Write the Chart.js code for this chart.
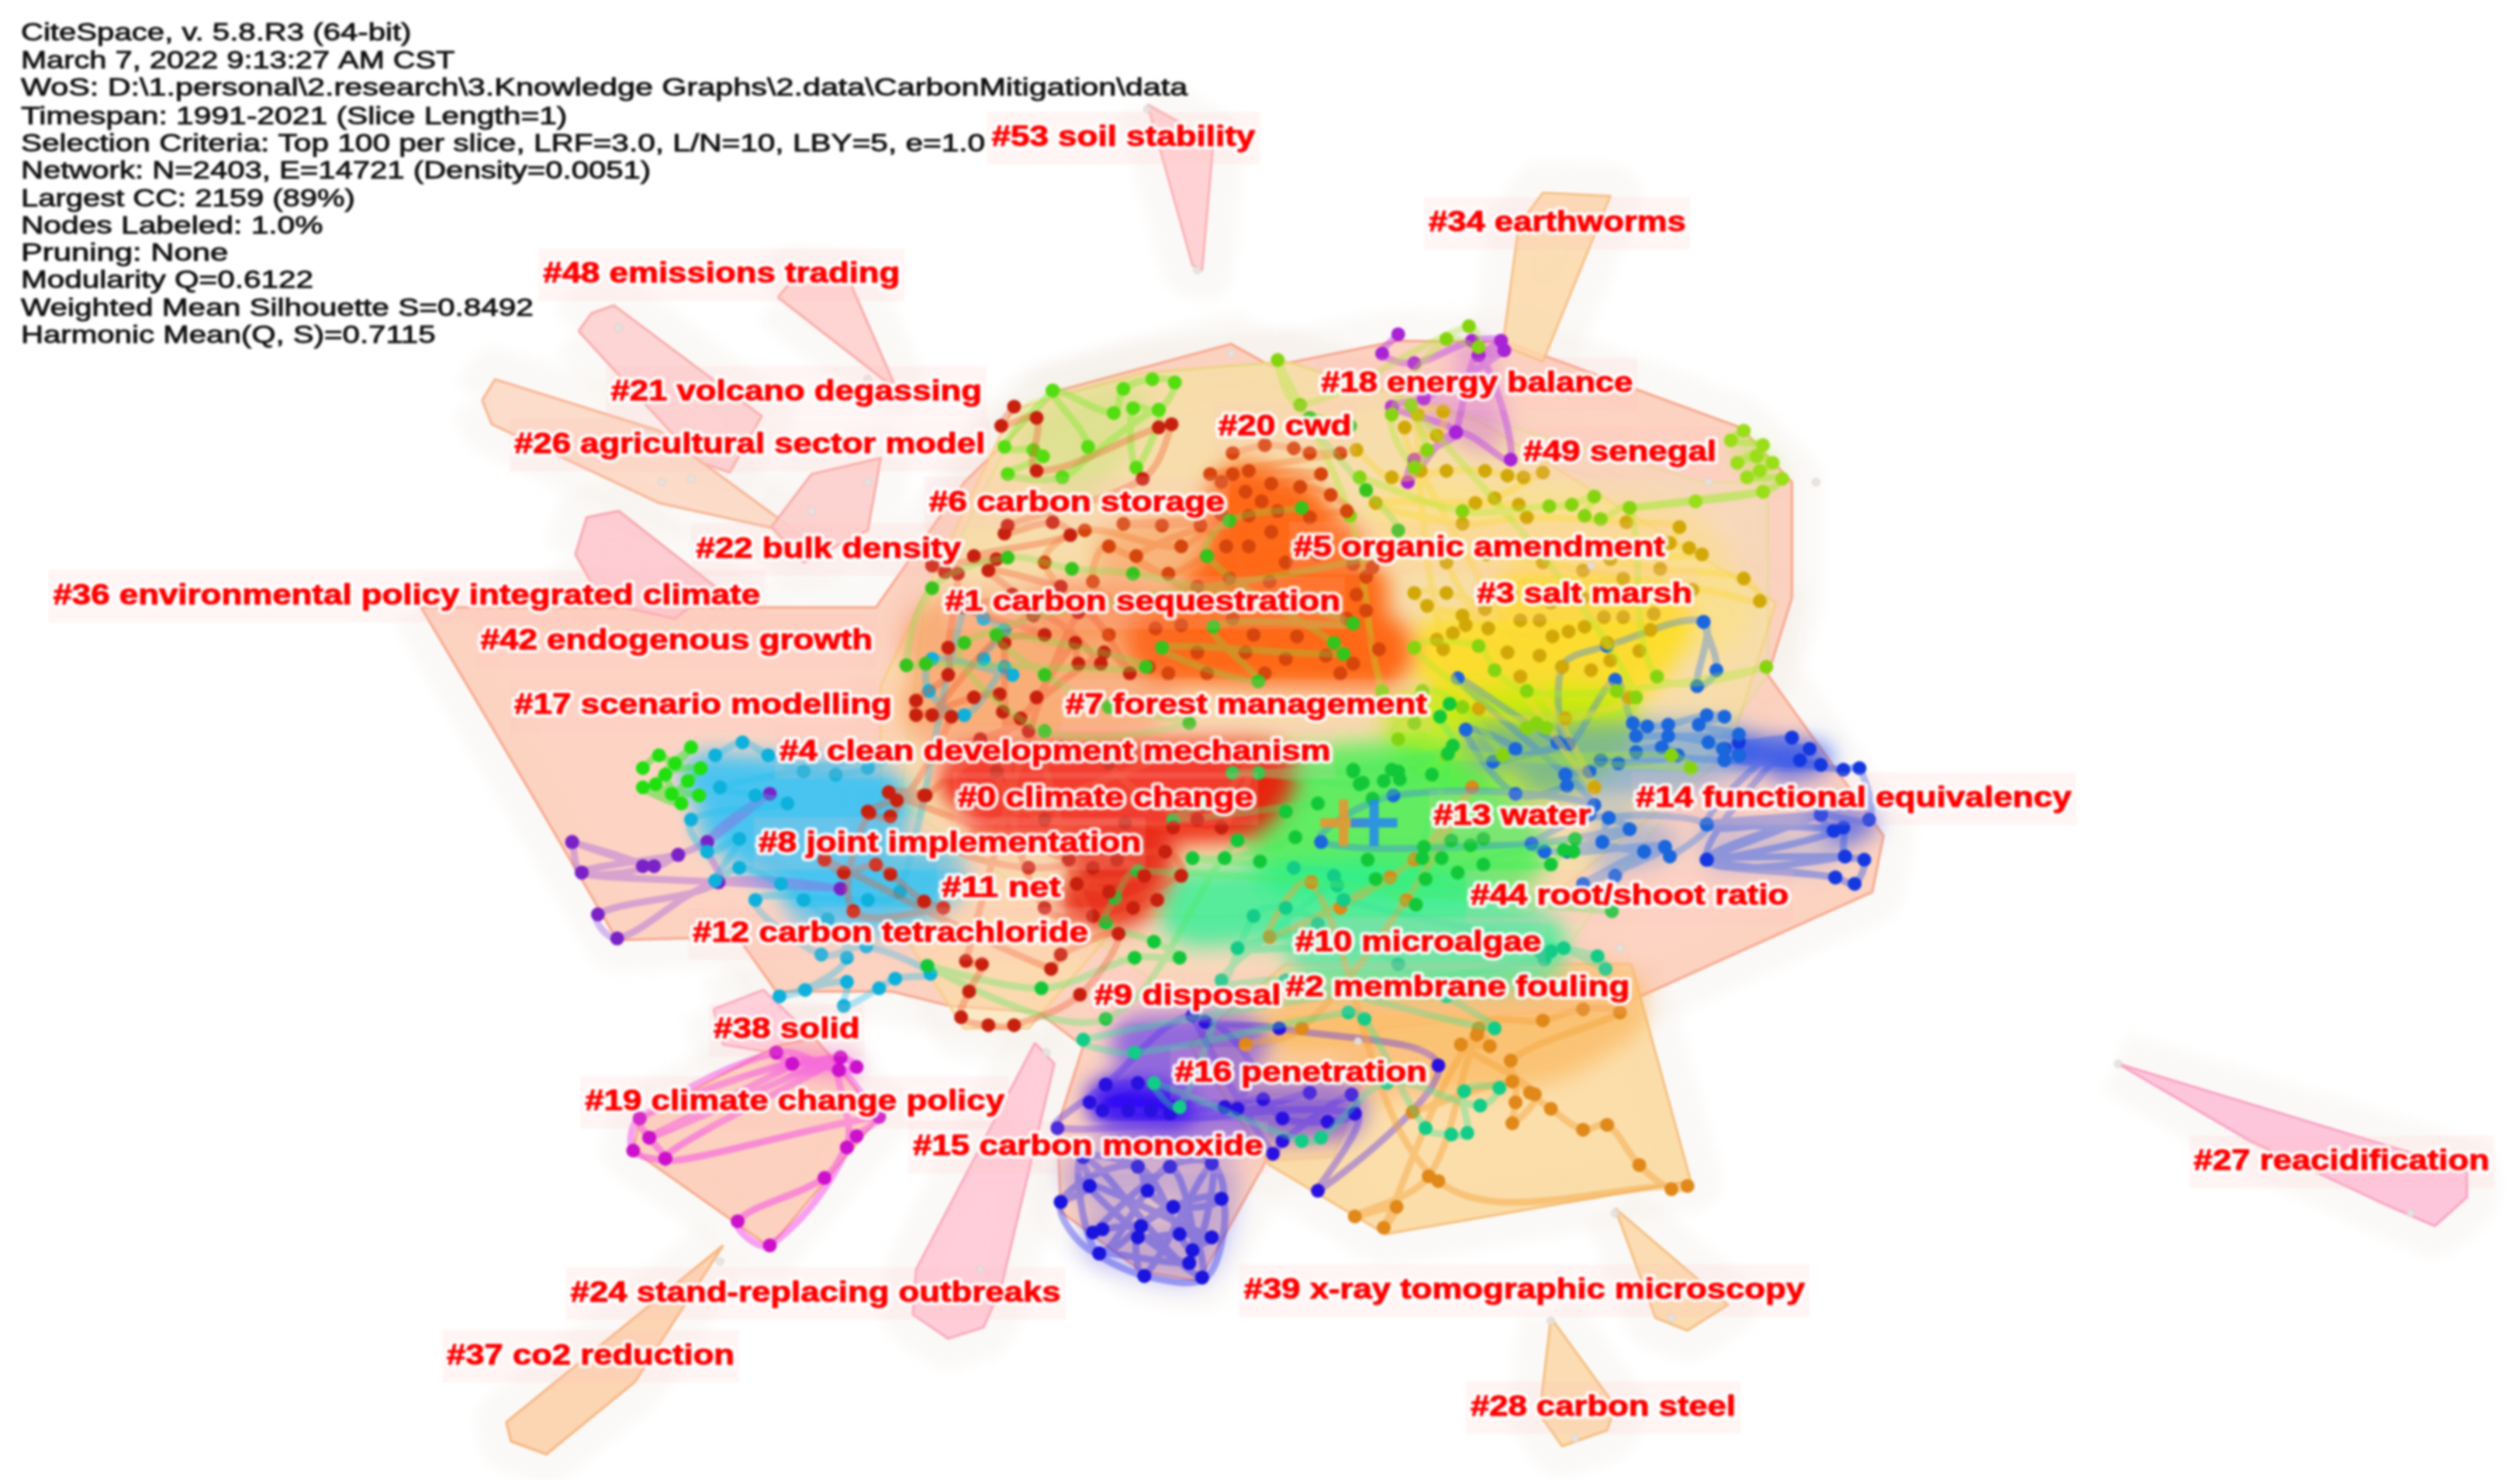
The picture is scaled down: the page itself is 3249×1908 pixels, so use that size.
<!DOCTYPE html>
<html>
<head>
<meta charset="utf-8">
<title>CiteSpace cluster map</title>
<script src="https://cdn.jsdelivr.net/npm/chart.js@4"></script>
<style>
html, body { margin: 0; padding: 0; background: #fff; }
canvas { display: block; filter: blur(1.6px); }
</style>
</head>
<body>
<canvas id="map" width="3249" height="1908"></canvas>
<script>
// header block
const headerLines = [
  'CiteSpace, v. 5.8.R3 (64-bit)',
  'March 7, 2022 9:13:27 AM CST',
  'WoS: D:\\1.personal\\2.research\\3.Knowledge Graphs\\2.data\\CarbonMitigation\\data',
  'Timespan: 1991-2021 (Slice Length=1)',
  'Selection Criteria: Top 100 per slice, LRF=3.0, L/N=10, LBY=5, e=1.0',
  'Network: N=2403, E=14721 (Density=0.0051)',
  'Largest CC: 2159 (89%)',
  'Nodes Labeled: 1.0%',
  'Pruning: None',
  'Modularity Q=0.6122',
  'Weighted Mean Silhouette S=0.8492',
  'Harmonic Mean(Q, S)=0.7115'
];
const headerY = [21, 38, 55, 73, 90, 107, 124, 141, 158, 175, 192, 209];
const headerRight = [256, 283, 739, 353, 613, 405, 221, 201, 142, 195, 332, 271];

// cluster labels: name, left, right, middle
const labelNames = ['#53 soil stability', '#34 earthworms', '#48 emissions trading', '#21 volcano degassing', '#18 energy balance', '#20 cwd', '#26 agricultural sector model', '#49 senegal', '#6 carbon storage', '#22 bulk density', '#5 organic amendment', '#36 environmental policy integrated climate', '#3 salt marsh', '#1 carbon sequestration', '#42 endogenous growth', '#17 scenario modelling', '#7 forest management', '#4 clean development mechanism', '#0 climate change', '#14 functional equivalency', '#13 water', '#8 joint implementation', '#11 net', '#44 root/shoot ratio', '#12 carbon tetrachloride', '#10 microalgae', '#2 membrane fouling', '#9 disposal', '#38 solid', '#16 penetration', '#19 climate change policy', '#15 carbon monoxide', '#27 reacidification', '#24 stand-replacing outbreaks', '#39 x-ray tomographic microscopy', '#37 co2 reduction', '#28 carbon steel'];
const labelLeft = [617, 889, 338, 380, 822, 758, 320, 948, 578, 433, 805, 33, 919, 588, 299, 320, 663, 485, 596, 1018, 892, 472, 586, 915, 431, 806, 800, 681, 444, 731, 364, 568, 1365, 355, 774, 278, 915];
const labelRight = [781, 1049, 560, 611, 1016, 841, 613, 1068, 762, 598, 1036, 473, 1053, 834, 543, 555, 888, 828, 780, 1289, 990, 710, 660, 1113, 677, 959, 1014, 797, 535, 888, 625, 786, 1549, 660, 1123, 457, 1080];
const labelMid = [86, 139, 171, 244, 239, 266, 277, 282, 313, 342, 341, 371, 370, 375, 399, 439, 439, 468, 497, 497, 508, 525, 553, 558, 581, 587, 615, 620, 641, 668, 686, 714, 723, 805, 803, 844, 876];

// cluster hulls
const hullMain = [[262,378],[545,378],[600,300],[659,243],[766,214],[791,228],[870,212],[938,213],[1083,266],[1115,300],[1115,372],[1100,420],[1172,520],[1165,555],[1012,624],[860,640],[830,720],[788,722],[768,758],[746,797],[710,791],[660,754],[658,701],[674,651],[646,630],[591,626],[555,617],[483,617],[459,583],[384,585],[336,503],[262,378]];
const hullOrange = [[1015,600],[1052,735],[862,768],[790,725],[740,650],[800,600],[1015,600]];
const hullYellow = [[630,255],[710,232],[800,225],[920,262],[1105,375],[1075,470],[950,570],[700,570],[640,640],[600,640],[548,560],[548,427],[630,255]];
const hullGreen = [[640,250],[720,232],[800,225],[1060,300],[1100,300],[1100,420],[960,610],[760,640],[560,500],[575,380],[640,250]];
const hull34 = [[935,215],[945,140],[960,120],[1002,122],[960,225],[935,215]];
const hull53 = [[714,65],[755,88],[748,168],[742,165],[714,65]];
const hull48 = [[484,185],[495,172],[529,176],[556,238],[552,238],[484,185]];
const hull21 = [[360,206],[368,195],[382,190],[474,259],[454,294],[434,287],[360,206]];
const hull26 = [[300,249],[308,236],[410,268],[500,334],[478,328],[410,313],[306,264],[300,249]];
const hull22 = [[480,328],[505,295],[548,285],[540,330],[500,350],[480,328]];
const hull36 = [[358,345],[365,322],[385,318],[445,365],[420,385],[375,375],[358,345]];
const hull38 = [[444,628],[475,616],[500,640],[520,660],[480,655],[450,650],[444,628]];
const hull19 = [[483,651],[507,646],[547,695],[479,776],[394,716],[398,696],[483,651]];
const hull24 = [[644,649],[656,662],[623,801],[612,826],[590,833],[568,818],[570,790],[644,649]];
const hull37 = [[450,775],[315,885],[318,897],[340,905],[395,860],[450,775]];
const hull27 = [[1318,662],[1535,728],[1535,745],[1515,763],[1485,750],[1400,710],[1318,662]];
const hull28 = [[965,820],[1005,875],[1000,890],[972,900],[958,880],[965,820]];
const hull39 = [[1005,752],[1075,812],[1050,828],[1030,820],[1005,752]];

// dense colour areas
const washOrange = [[775,312],[805,325],[775,345],[825,345],[760,370],[840,370],[725,400],[855,405]];
const washOrangePale = [[700,345],[750,335],[725,375],[660,380]];
const washMixed = [[590,400],[700,395],[700,430],[590,440]];
const washRed = [[605,485],[785,482],[770,502],[620,502]];
const washRedLow = [[680,530],[715,530],[700,560],[675,560]];
const washYellow = [[950,375],[1030,385],[1010,415],[900,405],[930,440],[990,430]];
const washPaleYellow = [[880,325],[1040,345],[1060,380]];
const washLime = [[880,450],[1000,450],[960,480],[890,470]];
const washGreen = [[785,495],[885,490],[935,530],[805,530]];
const washTeal = [[745,565],[870,560],[950,590],[825,590]];
const washCyan = [[440,485],[545,492],[550,510],[450,510],[495,540],[585,545],[555,565],[505,560]];
const washBlue = [[925,465],[1075,465],[1040,480],[960,480]];
const washBlueLow = [[1000,510],[1035,525],[1000,535]];
const washFan = [[1085,468],[1130,472],[1110,478]];
const washFanLow = [[1135,508],[1160,512],[1145,520]];
const washFanPale = [[1065,520],[1135,530],[1070,535]];
const washLowerBlue = [[680,730],[750,730],[740,780],[690,770]];
const washAmber = [[810,635],[1000,625],[960,650],[860,660]];
const washViolet = [[710,650],[770,650],[700,690],[830,690]];
const washIndigo = [[690,685],[730,690]];
const washMagenta = [[490,660],[528,664]];
const washLimeLeft = [[650,270],[700,255],[670,295]];
const washLimeRight = [[1085,280],[1098,292]];
const washPurple = [[915,222],[925,270],[890,250]];

// nodes per cluster, listed so the links run through them
const nodesPurpleTop = [[870,208],[860,220],[880,226],[916,212],[934,212],[920,221],[936,218],[886,248],[866,253],[906,269],[880,286],[876,300],[906,269],[940,286],[920,221],[906,269]];
const nodesLimeLeft = [[655,243],[625,278],[643,280],[649,284],[627,295],[661,297],[677,278],[655,243],[693,257],[699,242],[717,236],[731,238],[721,255],[705,254],[707,291],[721,255],[661,297]];
const nodesLimeRight = [[1085,268],[1077,274],[1097,277],[1081,288],[1093,284],[1103,288],[1095,293],[1087,297],[1109,298],[1097,306],[1055,312],[1014,316],[1097,306]];
const nodesDarkRed = [[631,253],[623,265],[645,260],[645,293],[721,266],[729,264],[711,298],[627,327],[625,332],[655,325],[666,333],[606,346],[620,348],[580,352],[588,356],[596,357],[590,403],[590,420],[570,436],[570,445],[606,434],[622,432],[624,443],[635,447],[645,434],[669,400],[671,413],[685,413],[643,383],[580,445],[592,446],[554,508],[540,505],[558,498],[576,495],[687,406],[703,419],[671,381],[601,598],[611,600],[603,617],[598,633],[615,638],[631,638],[672,619],[696,581],[660,594],[654,603],[513,535],[525,543],[545,538],[554,544],[575,561],[587,565],[531,567],[541,506],[575,495],[553,493],[665,535],[680,540],[695,535],[712,545],[670,550],[690,555],[705,565],[720,560],[680,570],[640,455],[610,460],[580,470],[660,465],[620,480],[650,510],[700,512],[730,515],[760,515],[780,470],[745,510],[690,475],[725,470],[595,525],[640,540],[725,530],[735,545],[650,565],[625,400],[650,395],[600,378],[630,370],[615,355],[660,365]];
const nodesOrangeRed = [[767,282],[787,277],[805,279],[815,282],[834,282],[753,295],[767,295],[777,293],[822,295],[791,301],[775,306],[785,312],[809,303],[828,308],[838,318],[699,326],[723,327],[747,327],[763,340],[791,331],[777,321],[707,346],[727,357],[751,346],[777,340],[838,340],[850,359],[854,353],[842,351],[844,370],[850,380],[838,385],[858,404],[842,413],[834,419],[825,408],[807,396],[767,385],[735,389],[719,391],[775,406],[745,406],[715,415],[727,419],[751,419],[787,419],[760,300],[795,318],[815,322],[820,345],[800,350],[765,360],[790,362],[815,372],[780,395],[800,410],[690,340],[680,362],[700,375],[745,365],[760,320],[735,340],[675,330],[650,350],[690,395]];
const nodesGreenMixed = [[810,316],[765,324],[751,346],[830,400],[836,407],[723,403],[783,424],[755,390],[842,388],[705,357],[667,354],[627,347],[580,366],[564,414],[576,413],[713,415],[620,395],[650,420],[690,440],[740,450],[650,455],[600,400],[860,345],[870,330],[850,305],[815,260],[840,265]];
const nodesOlive = [[844,280],[866,297],[900,293],[924,293],[938,296],[948,297],[960,294],[930,310],[918,313],[945,314],[856,313],[910,326],[950,322],[1012,325],[1045,328],[1039,338],[1051,341],[1059,345],[1002,348],[1033,354],[1085,360],[1095,374],[1053,367],[1029,382],[1027,392],[1010,384],[998,384],[986,390],[976,393],[958,386],[946,386],[966,396],[926,391],[910,383],[888,377],[880,369],[900,369],[924,379],[912,389],[894,398],[904,394],[938,406],[958,408],[946,421],[1002,411],[990,417],[972,415],[1014,434],[974,447],[920,441],[898,404],[882,258],[898,256],[894,271],[874,266],[884,293],[992,490],[900,350],[925,345],[960,350],[985,355],[1010,360],[940,370],[965,375],[985,372],[1000,400],[1020,405]];
const nodesLime = [[846,297],[910,318],[964,315],[978,314],[992,309],[986,321],[996,323],[1014,316],[1031,421],[1099,415],[1006,430],[950,430],[930,417],[920,402],[880,403],[950,453],[962,453],[956,450],[1018,434],[878,252],[888,280],[880,291],[866,258],[900,211],[920,216],[914,203],[809,252],[795,224],[840,321],[860,430],[880,450],[900,470],[1040,470],[1052,478],[870,460],[885,430],[910,440],[935,470]];
const nodesBlue = [[1060,387],[1068,417],[1056,427],[1060,387],[1000,402],[972,415],[976,463],[1005,423],[1016,450],[1025,452],[1038,451],[1062,445],[1073,446],[1057,451],[1082,457],[1018,458],[1038,458],[1063,462],[1072,466],[1082,470],[1073,473],[1018,468],[1034,465],[1044,470],[1007,475],[996,473],[989,480],[974,482],[975,489],[943,494],[912,454],[943,466],[929,474],[976,463],[969,462],[907,422],[974,482],[992,501],[989,507],[1001,509],[1014,516],[997,524],[1023,530],[1036,527],[1039,533],[1062,513],[1001,509],[997,524],[961,530],[953,525],[992,501],[867,495],[822,524],[953,525],[1014,516],[975,530],[1036,527],[985,550],[1023,530],[1005,545]];
const nodesRoyal = [[1082,470],[1115,459],[1073,466],[1126,466],[1082,462],[1120,473],[1073,473],[1133,476],[1082,470],[1147,479],[1157,478],[1163,510],[1133,507],[1141,517],[1147,515],[1148,533],[1160,535],[1154,550],[1142,546],[1062,535],[1133,507],[1062,535],[1141,517],[1062,513],[1133,507],[1062,513],[1115,459],[1062,535],[1148,533],[1062,535],[1142,546]];
const nodesLowerBlue = [[660,748],[678,738],[674,720],[708,726],[714,741],[730,751],[760,746],[754,724],[728,726],[680,767],[686,765],[710,763],[708,770],[734,768],[754,770],[742,778],[740,786],[684,780],[712,794],[748,795],[730,751],[684,780],[660,748],[708,726],[742,778],[754,724],[712,794],[710,763],[760,746],[748,795],[674,720],[684,780],[728,726],[740,786],[678,738],[754,770]];
const nodesIndigo = [[688,675],[708,674],[678,686],[686,691],[702,691],[716,691],[728,693],[762,689],[786,684],[798,696],[826,698],[843,693],[841,681],[798,710],[792,718],[742,632],[750,636],[796,640],[895,663],[820,741],[843,693],[658,702],[688,675],[742,632],[780,665],[770,690],[815,680]];
const nodesMagenta = [[483,655],[493,662],[523,658],[533,664],[522,666],[483,655],[398,696],[404,708],[414,721],[394,716],[398,696],[493,662],[404,708],[523,658],[414,721],[547,695],[533,707],[527,714],[513,733],[459,760],[479,775],[527,714],[522,666],[547,695]];
const nodesPurpleLeft = [[356,524],[362,543],[400,539],[356,524],[407,539],[422,532],[440,524],[479,494],[440,524],[447,549],[372,569],[384,584],[447,549],[523,553],[447,549],[362,543],[422,532]];
const nodesBright = [[400,478],[410,470],[420,475],[430,465],[408,488],[418,494],[428,486],[436,478],[414,482],[424,500],[400,490],[435,495]];
const nodesCyan = [[445,470],[462,462],[478,470],[500,480],[520,482],[540,478],[556,470],[448,490],[470,495],[490,500],[430,510],[440,530],[460,522],[445,548],[460,540],[486,550],[500,560],[515,572],[527,596],[501,616],[485,620],[527,611],[525,626],[547,615],[557,609],[579,606],[539,589],[511,594],[470,560],[540,560],[560,555],[600,378],[612,385],[625,392],[612,410],[630,420],[580,410],[578,430],[600,445],[625,415]];
const nodesGreen = [[902,438],[896,446],[904,464],[842,479],[866,479],[846,488],[783,481],[767,481],[842,480],[870,480],[848,487],[861,486],[871,485],[891,482],[854,497],[901,469],[886,527],[903,523],[923,522],[915,526],[885,534],[897,534],[851,535],[907,543],[923,538],[965,538],[973,529],[979,530],[980,522],[887,547],[881,563],[856,547],[1003,567],[708,542],[694,559],[688,574],[718,586],[734,596],[706,596],[648,615],[577,601],[688,634],[770,523],[784,536],[742,534],[762,534],[806,521],[800,505],[820,500],[730,510],[750,500]];
const nodesTeal = [[832,551],[836,560],[994,595],[999,603],[973,590],[965,592],[958,592],[961,597],[674,647],[706,655],[839,630],[849,634],[887,702],[903,706],[913,705],[911,679],[933,677],[921,688],[863,674],[822,708],[810,710],[718,674],[734,689],[780,570],[800,565],[820,575],[770,590],[850,590],[870,600],[900,620],[930,640],[800,610],[760,610],[830,545],[805,540]];
const nodesAmber = [[879,692],[941,673],[943,686],[941,699],[955,681],[909,650],[927,651],[919,644],[889,732],[843,757],[869,751],[861,764],[920,640],[960,635],[985,628],[1008,630],[940,660],[952,680],[965,690],[985,703],[1000,700],[1020,725],[1040,740],[1050,738],[895,735],[816,549],[790,583],[865,546],[834,565],[880,535],[905,505],[916,490],[875,560],[810,640],[775,650]];
const nodesPale = [[714,68],[745,168],[540,236],[448,785],[1318,662],[1500,755],[965,822],[1005,755],[1040,820],[980,895],[651,655],[590,800],[610,790],[412,300],[430,298],[505,318],[500,345],[540,300],[385,204],[402,270],[990,352],[1010,345],[1063,300],[1130,300],[1008,590],[845,648],[766,220]];

// the two large crosses near #13 water
const crossOrange = [[836,512]];
const crossBlue = [[855,512]];

// hull, wash and node colours by name
const hullList = [
  [hullMain, 'rgba(252,196,172,0.72)', '#f8a58a'],
  [hullYellow, 'rgba(252,222,160,0.55)', '#f9cd8a'],
  [hullOrange, 'rgba(251,214,150,0.8)', '#f6bf7c'],
  [hullGreen, 'rgba(226,240,150,0.16)', 'rgba(200,230,100,0.3)'],
  [hull34, 'rgba(252,216,168,0.85)', '#f7bf85'],
  [hull53, 'rgba(255,206,208,0.9)', '#fab0b4'],
  [hull48, 'rgba(254,208,206,0.9)', '#f9aaa6'],
  [hull21, 'rgba(253,208,208,0.9)', '#f8aaa8'],
  [hull26, 'rgba(252,216,196,0.9)', '#f7b393'],
  [hull22, 'rgba(253,206,204,0.9)', '#f8a9a6'],
  [hull36, 'rgba(253,200,206,0.9)', '#f8a6ae'],
  [hull38, 'rgba(255,205,220,0.9)', '#f9aabe'],
  [hull19, 'rgba(252,204,184,0.9)', '#f7a688'],
  [hull24, 'rgba(255,203,216,0.95)', '#f9a6bb'],
  [hull37, 'rgba(252,208,170,0.9)', '#f6b47e'],
  [hull27, 'rgba(254,196,218,0.95)', '#f9a0c2'],
  [hull28, 'rgba(252,216,170,0.9)', '#f4bd7e'],
  [hull39, 'rgba(252,216,170,0.9)', '#f4bd7e']
];
const washList = [
  [washAmber, 'rgba(250,176,80,0.6)', 50],
  [washPaleYellow, 'rgba(255,226,90,0.32)', 60],
  [washLimeLeft, 'rgba(150,235,70,0.25)', 34],
  [washLimeRight, 'rgba(170,235,50,0.5)', 14],
  [washPurple, 'rgba(190,60,235,0.32)', 24],
  [washYellow, 'rgba(255,222,0,0.72)', 46],
  [washLime, 'rgba(184,240,0,0.72)', 42],
  [washOrangePale, 'rgba(250,120,50,0.4)', 40],
  [washOrange, 'rgba(255,98,14,0.95)', 50],
  [washMixed, 'rgba(250,110,50,0.42)', 60],
  [washGreen, 'rgba(60,240,80,0.8)', 56],
  [washTeal, 'rgba(36,240,150,0.76)', 50],
  [washCyan, 'rgba(16,190,255,0.76)', 34],
  [washBlue, 'rgba(40,130,245,0.45)', 32],
  [washBlueLow, 'rgba(50,120,240,0.3)', 20],
  [washFan, 'rgba(20,60,240,0.72)', 20],
  [washFanLow, 'rgba(20,60,240,0.6)', 16],
  [washFanPale, 'rgba(60,110,235,0.22)', 22],
  [washLowerBlue, 'rgba(60,60,240,0.28)', 40],
  [washRed, 'rgba(240,24,10,0.94)', 42],
  [washRedLow, 'rgba(230,28,12,0.88)', 34],
  [washViolet, 'rgba(70,30,240,0.58)', 40],
  [washIndigo, 'rgba(40,0,245,0.95)', 26],
  [washMagenta, 'rgba(240,40,220,0.55)', 12]
];
const nodeList = [
  [nodesPurpleLeft, '#7a22c8', 'rgba(160,90,225,0.4)'],
  [nodesMagenta, '#cc10cc', 'rgba(245,70,235,0.5)'],
  [nodesLowerBlue, '#1a14dd', 'rgba(50,50,235,0.4)'],
  [nodesIndigo, '#2a10e0', 'rgba(90,50,240,0.4)'],
  [nodesAmber, '#e08818', 'rgba(245,165,60,0.45)'],
  [nodesRoyal, '#1438e0', 'rgba(30,80,240,0.38)'],
  [nodesBlue, '#1a66dc', 'rgba(60,130,235,0.38)'],
  [nodesLimeRight, '#9ade1a', 'rgba(160,235,50,0.55)'],
  [nodesLimeLeft, '#55dd11', 'rgba(130,235,50,0.45)'],
  [nodesPurpleTop, '#a822d6', 'rgba(190,70,235,0.48)'],
  [nodesOlive, '#d2a808', 'rgba(250,215,60,0.4)'],
  [nodesLime, '#86d410', 'rgba(170,235,40,0.35)'],
  [nodesOrangeRed, '#d6450c', 'rgba(245,110,40,0.3)'],
  [nodesCyan, '#0eb0dc', 'rgba(40,190,235,0.38)'],
  [nodesTeal, '#12cc88', 'rgba(50,230,150,0.35)'],
  [nodesGreen, '#12c838', 'rgba(80,235,100,0.35)'],
  [nodesDarkRed, '#c8200e', 'rgba(240,90,50,0.35)'],
  [nodesGreenMixed, '#36c41c', 'rgba(120,230,70,0.3)'],
  [nodesBright, '#20e010', 'rgba(60,230,40,0.5)']
];

function toPoints(list) {
  return list.map(p => ({ x: p[0], y: p[1] }));
}

const datasets = [];
function add(ds) {
  ds.order = 1000 - datasets.length;   // later ones on top
  ds.clip = false;
  datasets.push(ds);
}

// soft grey halo round the hulls
hullList.forEach(h => {
  add({ data: toPoints(h[0]), showLine: true, pointRadius: 0, fill: false, soft: 8,
    borderColor: 'rgba(242,234,228,0.3)', borderWidth: 80, borderJoinStyle: 'round' });
});
hullList.forEach(h => {
  add({ data: toPoints(h[0]), showLine: true, pointRadius: 0, fill: 'shape',
    backgroundColor: h[1], borderColor: h[2], borderWidth: 3, borderJoinStyle: 'round' });
});
washList.forEach(w => {
  add({ data: toPoints(w[0]), showLine: true, pointRadius: 0, fill: false, soft: 14, tension: 0.2,
    borderColor: w[1], borderWidth: w[2] * 2, borderJoinStyle: 'round', borderCapStyle: 'round' });
});
nodeList.forEach(n => {
  add({ data: toPoints(n[0]), showLine: true, tension: 0.35, fill: false,
    borderColor: n[2], borderWidth: 9, pointStyle: 'circle', pointRadius: 8,
    pointBackgroundColor: n[1], pointBorderColor: n[1], pointBorderWidth: 2 });
});
add({ data: toPoints(nodesPale), showLine: false, pointRadius: 5,
  pointBackgroundColor: 'rgba(232,226,222,0.9)', pointBorderColor: 'rgba(210,205,205,0.9)' });
add({ data: toPoints(crossOrange), showLine: false, pointStyle: 'cross', pointRadius: 30, pointBorderWidth: 12,
  pointBorderColor: 'rgba(232,150,50,0.9)' });
add({ data: toPoints(crossBlue), showLine: false, pointStyle: 'cross', pointRadius: 30, pointBorderWidth: 12,
  pointBorderColor: 'rgba(40,140,235,0.9)' });

// blur only the datasets marked soft
const softPlugin = {
  id: 'soft',
  beforeDatasetDraw(chart, args) {
    const s = chart.data.datasets[args.index].soft;
    if (s) { chart.ctx.save(); chart.ctx.filter = 'blur(' + s + 'px)'; }
  },
  afterDatasetDraw(chart, args) {
    if (chart.data.datasets[args.index].soft) chart.ctx.restore();
  }
};

const textPlugin = {
  id: 'texts',
  afterDatasetsDraw(chart) {
    const ctx = chart.ctx, sx = chart.scales.x, sy = chart.scales.y;
    ctx.save();
    ctx.textBaseline = 'middle';
    ctx.textAlign = 'left';

    // cluster labels, stretched sideways to their width like the source picture
    ctx.font = 'bold 37px "Liberation Sans"';
    labelNames.forEach((name, i) => {
      const left = sx.getPixelForValue(labelLeft[i]);
      const right = sx.getPixelForValue(labelRight[i]);
      const y = sy.getPixelForValue(labelMid[i]);
      const stretch = (right - left) / ctx.measureText(name).width;
      ctx.fillStyle = 'rgba(255,190,190,0.16)';
      ctx.fillRect(left - 6, y - 34, right - left + 12, 68);
      ctx.save();
      ctx.translate(left, y);
      ctx.scale(stretch, 1);
      ctx.lineJoin = 'round';
      ctx.lineWidth = 9;
      ctx.strokeStyle = 'rgba(255,255,255,0.88)';
      ctx.strokeText(name, 0, 0);
      ctx.lineWidth = 1;
      ctx.strokeStyle = '#ff0000';
      ctx.strokeText(name, 0, 0);
      ctx.fillStyle = '#ff0000';
      ctx.fillText(name, 0, 0);
      ctx.restore();
    });

    // header, each line stretched to its own width
    ctx.font = '32px "Liberation Sans"';
    ctx.fillStyle = '#111';
    ctx.strokeStyle = '#111';
    ctx.lineWidth = 0.9;
    headerLines.forEach((line, i) => {
      const left = sx.getPixelForValue(13);
      const stretch = (sx.getPixelForValue(headerRight[i]) - left) / ctx.measureText(line).width;
      ctx.save();
      ctx.translate(left, sy.getPixelForValue(headerY[i]));
      ctx.scale(stretch, 1);
      ctx.fillText(line, 0, 0);
      ctx.strokeText(line, 0, 0);
      ctx.restore();
    });
    ctx.restore();
  }
};

new Chart(document.getElementById('map'), {
  type: 'scatter',
  data: { datasets: datasets },
  options: {
    responsive: false,
    animation: false,
    layout: { padding: 0, autoPadding: false },
    events: [],
    scales: {
      x: { type: 'linear', min: 0, max: 1568, display: false },
      y: { type: 'linear', min: 0, max: 921, reverse: true, display: false }
    },
    plugins: {
      legend: { display: false },
      tooltip: { enabled: false },
      filler: { drawTime: 'beforeDatasetDraw', propagate: false }
    }
  },
  plugins: [softPlugin, textPlugin]
});
</script>
</body>
</html>
